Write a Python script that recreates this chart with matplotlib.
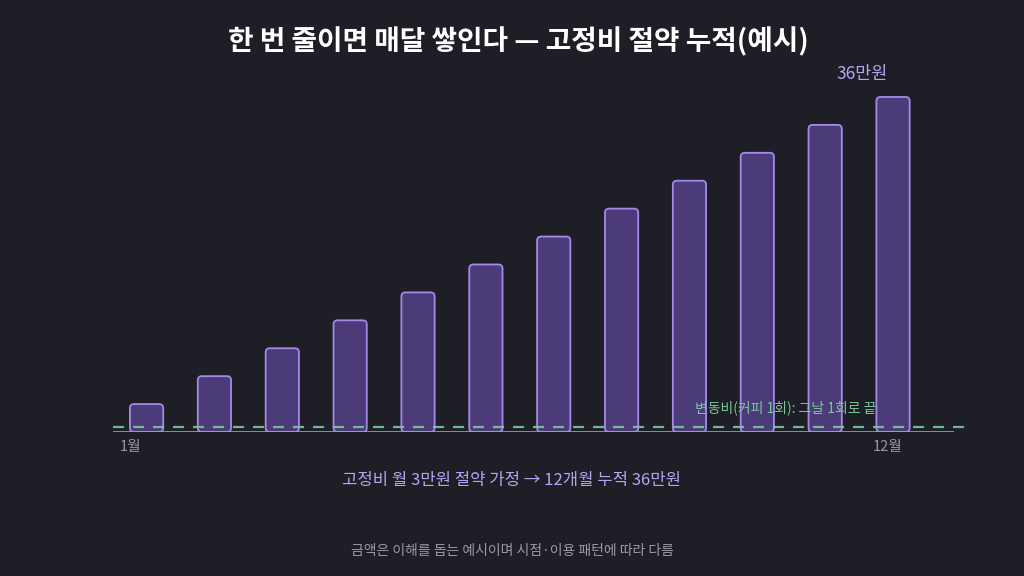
import matplotlib.pyplot as plt
from matplotlib.patches import FancyBboxPatch

plt.rcParams['font.family'] = ['Noto Sans CJK KR', 'DejaVu Sans']

# data
months = list(range(1, 13))
cumulative = [3, 6, 9, 12, 15, 18, 21, 24, 27, 30, 33, 36]  # 만원
variable_once = 0.5  # 커피 1회
tick_labels = ['1월', '12월']

bg = '#1e1e26'
bar_fill = '#4b3b78'
bar_edge = '#a48ae6'
green = '#7cc79a'
lavender = '#b7a3f0'

fig = plt.figure(figsize=(10.24, 5.76), dpi=100, facecolor=bg)
ax = fig.add_axes([0.110, 0.25, 0.835, 0.614])
ax.set_facecolor(bg)

# bars with slightly rounded corners
bars = ax.bar(months, cumulative, width=0.49, color='none', edgecolor='none')
for b in bars:
    x, y = b.get_x(), b.get_y()
    w, h = b.get_width(), b.get_height()
    p = FancyBboxPatch((x, y), w, h,
                       boxstyle='round,pad=0,rounding_size=0.06',
                       mutation_aspect=7.3,
                       facecolor=bar_fill, edgecolor=bar_edge, linewidth=1.3)
    ax.add_patch(p)

# baseline + variable-cost line
ax.axhline(variable_once, color=green, linestyle=(0, (5, 4)), linewidth=1.6, alpha=0.9)
ax.hlines(0, 0.5, 12.9, color='#a0a0a8', linewidth=1.2)

ax.set_xlim(0.5, 13.1)
ax.set_ylim(0, 38)
for s in ax.spines.values():
    s.set_visible(False)
ax.set_yticks([])
ax.set_xticks([months[0] - 0.23, months[-1] - 0.08])
ax.set_xticklabels(tick_labels, color='#9a9aa2', fontsize=10.5)
ax.tick_params(axis='x', length=0, pad=6)

ax.text(months[-1] - 0.45, cumulative[-1] + 1.5, f'{cumulative[-1]}만원',
        color=lavender, fontsize=12.5, ha='center', va='bottom')
ax.text(11.76, 2.6, '변동비(커피 1회): 그날 1회로 끝',
        color=green, fontsize=10, ha='right', va='center')

fig.text(0.506, 0.928, '한 번 줄이면 매달 쌓인다 — 고정비 절약 누적(예시)',
         color='white', fontsize=20, fontweight='bold', ha='center', va='center')
fig.text(0.5, 0.166, '고정비 월 3만원 절약 가정 → 12개월 누적 36만원',
         color=lavender, fontsize=12, ha='center', va='center')
fig.text(0.5, 0.043, '금액은 이해를 돕는 예시이며 시점·이용 패턴에 따라 다름',
         color='#9a9aa2', fontsize=10, ha='center', va='center')

fig.savefig('out.png', dpi=100, facecolor=bg)
